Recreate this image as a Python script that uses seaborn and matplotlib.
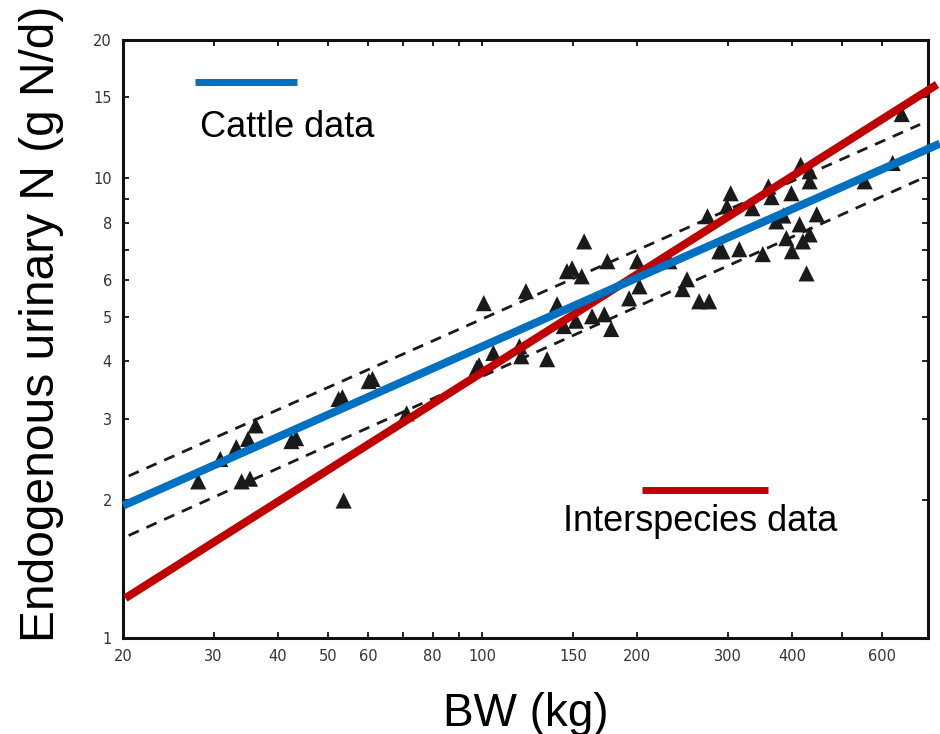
import matplotlib
matplotlib.use("Agg")
import matplotlib.pyplot as plt
import seaborn as sns
import pandas as pd
from matplotlib.ticker import FixedLocator, NullFormatter

bw = [28.0, 30.9, 33.2, 35.0, 36.2, 34.0, 35.3, 42.5, 43.4, 52.5,
      53.4, 60.1, 61.1, 53.7, 71.2, 97.5, 100.6, 121.5, 105, 118,
      133.6, 157.7, 149.4, 156, 146, 139.7, 144, 152, 163.4, 172.6,
      178, 175, 200, 202, 192.9, 250, 245, 264, 276, 231,
      274, 304, 299, 289, 316, 335, 399, 416, 433, 414,
      433, 390, 420, 351, 427, 554, 628, 654, 373, 447,
      433, 365, 385, 400, 360, 98.5, 119, 293]
en = [2.19, 2.45, 2.60, 2.71, 2.90, 2.19, 2.22, 2.68, 2.72, 3.31,
      3.34, 3.62, 3.66, 1.99, 3.08, 3.87, 5.35, 5.68, 4.17, 4.31,
      4.04, 7.29, 6.37, 6.12, 6.28, 5.32, 4.77, 4.90, 5.01, 5.06,
      4.70, 6.60, 6.60, 5.82, 5.48, 6.03, 5.74, 5.40, 5.40, 6.60,
      8.27, 9.28, 8.69, 6.94, 7.01, 8.61, 9.28, 10.7, 9.85, 7.94,
      7.55, 7.41, 7.29, 6.84, 6.21, 9.85, 10.8, 13.8, 8.06, 8.35,
      10.36, 9.1, 8.3, 6.94, 9.6, 3.92, 4.1, 6.94]

# fitted lines (end points)
cattle_bw = [20, 776]
cattle_n = [1.94, 11.9]
inter_bw = [20.2, 766]
inter_n = [1.22, 16.0]
upper_bw = [20.5, 710]
upper_n = [2.25, 13.1]
lower_bw = [20.5, 710]
lower_n = [1.67, 9.95]

x_ticks = [20, 30, 40, 50, 60, 80, 100, 150, 200, 300, 400, 600]
x_minor = [70, 90, 500]
y_ticks = [1, 2, 3, 4, 5, 6, 8, 10, 15, 20]
y_minor = [7, 9]

BLUE = "#0070C0"
RED = "#C00000"

sns.set_theme(style="ticks")
plt.rcParams["font.family"] = ["Liberation Sans", "DejaVu Sans"]

fig = plt.figure(figsize=(9.4, 7.34), dpi=100)
ax = fig.add_axes([0.131, 0.131, 0.856, 0.8145])
ax.set_xscale("log")
ax.set_yscale("log")
ax.set_xlim(20, 735)
ax.set_ylim(1, 20)

pts = pd.DataFrame({"bw": bw, "n": en})
sns.scatterplot(data=pts, x="bw", y="n", marker="^", s=135, color="#1a1a1a",
                edgecolor="none", ax=ax, zorder=2)

for xs, ys in [(upper_bw, upper_n), (lower_bw, lower_n)]:
    sns.lineplot(x=xs, y=ys, ax=ax, color="#1a1a1a", linewidth=2.0,
                 dashes=False, linestyle=(0, (4, 3)), zorder=3)

sns.lineplot(x=inter_bw, y=inter_n, ax=ax, color=RED, linewidth=5.8,
             clip_on=False, solid_capstyle="butt", zorder=4)
sns.lineplot(x=cattle_bw, y=cattle_n, ax=ax, color=BLUE, linewidth=5.8,
             clip_on=False, solid_capstyle="butt", zorder=5)

# custom legend: line above text
ax.plot([0.089, 0.216], [0.930, 0.930], transform=ax.transAxes,
        color=BLUE, linewidth=5, solid_capstyle="butt")
ax.text(0.096, 0.853, "Cattle data", transform=ax.transAxes,
        fontsize=26, va="center", ha="left", color="black")
ax.plot([0.645, 0.801], [0.247, 0.247], transform=ax.transAxes,
        color=RED, linewidth=5, solid_capstyle="butt")
ax.text(0.547, 0.194, "Interspecies data", transform=ax.transAxes,
        fontsize=26, va="center", ha="left", color="black")

ax.xaxis.set_major_locator(FixedLocator(x_ticks))
ax.xaxis.set_minor_locator(FixedLocator(x_minor))
ax.set_xticklabels([str(t) for t in x_ticks])
ax.xaxis.set_minor_formatter(NullFormatter())
ax.yaxis.set_major_locator(FixedLocator(y_ticks))
ax.yaxis.set_minor_locator(FixedLocator(y_minor))
ax.set_yticklabels([str(t) for t in y_ticks])
ax.yaxis.set_minor_formatter(NullFormatter())

ax.tick_params(which="both", direction="in", top=True, right=True,
               length=4, width=1.3, color="#111111")
ax.tick_params(axis="both", which="major", labelsize=10.5, labelcolor="#333333",
               pad=8)
for lbl in ax.get_xticklabels() + ax.get_yticklabels():
    lbl.set_family("DejaVu Sans")

for sp in ax.spines.values():
    sp.set_linewidth(2.2)
    sp.set_color("#111111")

ax.set_xlabel("BW (kg)", fontsize=33, color="black")
ax.set_ylabel("Endogenous urinary N (g N/d)", fontsize=34.5, color="black")
ax.xaxis.set_label_coords(0.5, -0.09)
ax.yaxis.set_label_coords(-0.074, 0.525)

fig.savefig("out.png", dpi=100)
